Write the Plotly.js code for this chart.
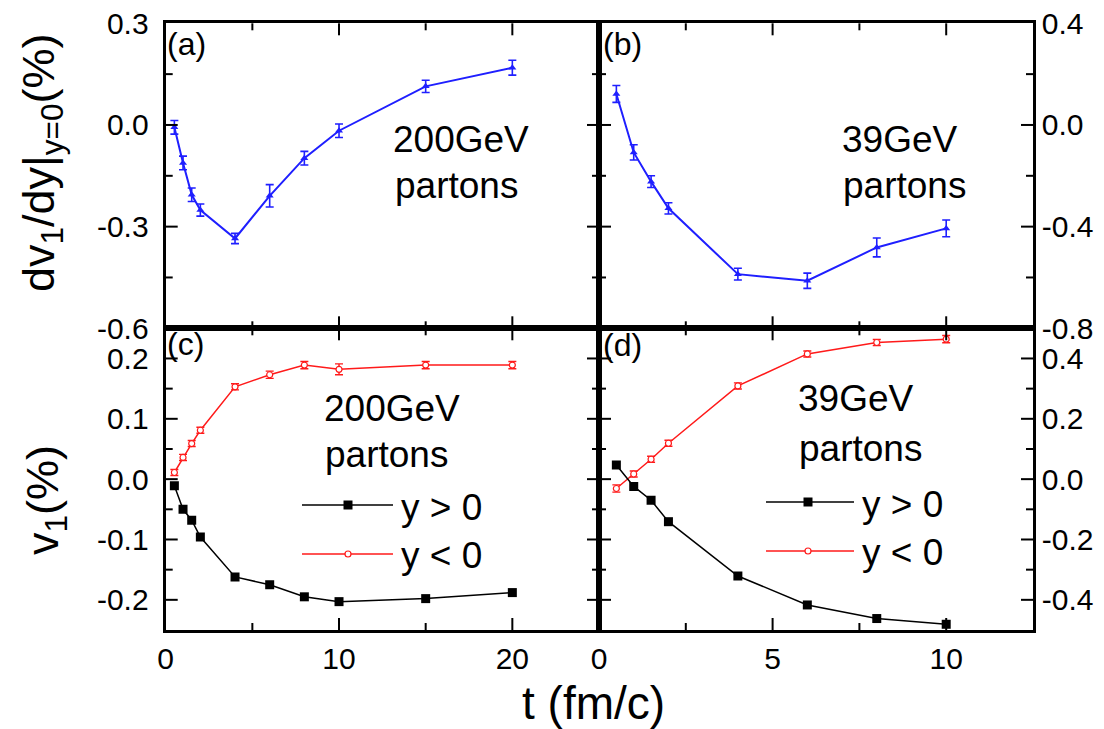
<!DOCTYPE html>
<html>
<head>
<meta charset="utf-8">
<script src="https://cdn.plot.ly/plotly-3.0.1.min.js"></script>
<style>html,body{margin:0;padding:0;background:#fff;}#chart{width:1104px;height:729px;}</style>
</head>
<body>
<div id="chart"></div>
<script>
// ---------- data ----------
const t200 = [0.5, 1, 1.5, 2, 4, 6, 8, 10, 15, 20];
const t39  = [0.5, 1, 1.5, 2, 4, 6, 8, 10];

// (a) dv1/dy at 200 GeV
const dv200    = [-0.007, -0.112, -0.206, -0.251, -0.335, -0.209, -0.098, -0.017, 0.114, 0.169];
const dv200Err = [0.02, 0.02, 0.02, 0.018, 0.015, 0.033, 0.02, 0.02, 0.018, 0.022];
// (b) dv1/dy at 39 GeV
const dv39     = [0.122, -0.108, -0.223, -0.328, -0.587, -0.613, -0.482, -0.407];
const dv39Err  = [0.033, 0.03, 0.023, 0.022, 0.023, 0.03, 0.037, 0.033];
// (c) v1 at 200 GeV
const v1Pos200    = [-0.011, -0.050, -0.068, -0.096, -0.162, -0.175, -0.195, -0.203, -0.198, -0.188];
const v1Neg200    = [0.011, 0.036, 0.059, 0.081, 0.153, 0.173, 0.189, 0.182, 0.189, 0.189];
const v1Neg200Err = [0.005, 0.005, 0.005, 0.005, 0.005, 0.006, 0.006, 0.009, 0.006, 0.006];
// (d) v1 at 39 GeV
const v1Pos39    = [0.047, -0.024, -0.070, -0.141, -0.321, -0.417, -0.462, -0.481];
const v1Neg39    = [-0.031, 0.017, 0.066, 0.119, 0.309, 0.415, 0.453, 0.464];
const v1Neg39Err = [0.012, 0.01, 0.01, 0.01, 0.01, 0.01, 0.01, 0.012];

// tick labels
const xValsL = [0, 10, 20];           const xTextL = ['0', '10', '20'];
const xValsR = [0, 5, 10];            const xTextR = ['0', '5', '10'];
const yValsA = [-0.6, -0.3, 0, 0.3];  const yTextA = ['-0.6', '-0.3', '0.0', '0.3'];
const yValsB = [-0.8, -0.4, 0, 0.4];  const yTextB = ['-0.8', '-0.4', '0.0', '0.4'];
const yValsC = [-0.2, -0.1, 0, 0.1, 0.2]; const yTextC = ['-0.2', '-0.1', '0.0', '0.1', '0.2'];
const yValsD = [-0.4, -0.2, 0, 0.2, 0.4]; const yTextD = ['-0.4', '-0.2', '0.0', '0.2', '0.4'];
// tick spacing [major, minor]
const xStepL = [10, 5], xStepR = [5, 2.5];
const yStepA = [0.3, 0.15], yStepB = [0.4, 0.2], yStepC = [0.1, 0.05], yStepD = [0.2, 0.1];

const legendNames = ['y > 0', 'y < 0'];
const energyLabels = ['200GeV', '39GeV'];
const panelLabels = ['(a)', '(b)', '(c)', '(d)'];

// ---------- layout helpers ----------
const W = 1104, H = 729;
const px = x => x / W;
const py = y => 1 - y / H;
const FONT = 'Liberation Sans, Arial, Helvetica, sans-serif';
const NB = '\u00a0';

const X0 = 165.7, XM = 599, X1 = 1033;
const Y0 = 23.3, YM = 328.3, Y1 = 630;
const MAJ = 12, MIN = 7;

const blue = '#1f1fff';
const red = '#ff1a1a';

const traces = [
  {x: t200, y: dv200, xaxis: 'x', yaxis: 'y', type: 'scatter', mode: 'lines+markers',
   line: {color: blue, width: 2}, marker: {symbol: 'triangle-up', size: 7, color: blue},
   error_y: {type: 'data', array: dv200Err, color: blue, thickness: 1.6, width: 4}},
  {x: t39, y: dv39, xaxis: 'x2', yaxis: 'y2', type: 'scatter', mode: 'lines+markers',
   line: {color: blue, width: 2}, marker: {symbol: 'triangle-up', size: 7, color: blue},
   error_y: {type: 'data', array: dv39Err, color: blue, thickness: 1.6, width: 4}},
  {x: t200, y: v1Neg200, xaxis: 'x3', yaxis: 'y3', type: 'scatter', mode: 'lines+markers',
   line: {color: red, width: 1.5}, marker: {symbol: 'circle', size: 6, color: '#fff', line: {color: red, width: 1.2}},
   error_y: {type: 'data', array: v1Neg200Err, color: red, thickness: 1.4, width: 4}},
  {x: t200, y: v1Pos200, xaxis: 'x3', yaxis: 'y3', type: 'scatter', mode: 'lines+markers',
   line: {color: '#000', width: 1.5}, marker: {symbol: 'square', size: 9, color: '#000'}},
  {x: t39, y: v1Neg39, xaxis: 'x4', yaxis: 'y4', type: 'scatter', mode: 'lines+markers',
   line: {color: red, width: 1.5}, marker: {symbol: 'circle', size: 6, color: '#fff', line: {color: red, width: 1.2}},
   error_y: {type: 'data', array: v1Neg39Err, color: red, thickness: 1.4, width: 4}},
  {x: t39, y: v1Pos39, xaxis: 'x4', yaxis: 'y4', type: 'scatter', mode: 'lines+markers',
   line: {color: '#000', width: 1.5}, marker: {symbol: 'square', size: 9, color: '#000'}}
];

const tickFont = {family: FONT, size: 30, color: '#000'};

const dL = [px(X0), px(XM)], dR = [px(XM), px(X1)];
const dT = [py(YM), py(Y0)], dB = [py(Y1), py(YM)];

const panels = [
  {xd: dL, yd: dT, xr: [0, 25],   yr: [-0.6, 0.3],   xs: xStepL, ys: yStepA, xv: xValsL, xt: null,   yv: yValsA, yt: yTextA, side: 'left',
   left: X0, right: XM, top: Y0, bottom: YM},
  {xd: dR, yd: dT, xr: [0, 12.5], yr: [-0.8, 0.4],   xs: xStepR, ys: yStepB, xv: xValsR, xt: null,   yv: yValsB, yt: yTextB, side: 'right',
   left: XM, right: X1, top: Y0, bottom: YM},
  {xd: dL, yd: dB, xr: [0, 25],   yr: [-0.25, 0.25], xs: xStepL, ys: yStepC, xv: xValsL, xt: xTextL, yv: yValsC, yt: yTextC, side: 'left',
   left: X0, right: XM, top: YM, bottom: Y1},
  {xd: dR, yd: dB, xr: [0, 12.5], yr: [-0.5, 0.5],   xs: xStepR, ys: yStepD, xv: xValsR, xt: xTextR, yv: yValsD, yt: yTextD, side: 'right',
   left: XM, right: X1, top: YM, bottom: Y1}
];

const layout = {
  width: W, height: H,
  margin: {l: 0, r: 0, t: 0, b: 0},
  paper_bgcolor: '#fff', plot_bgcolor: '#fff',
  showlegend: false,
  font: {family: FONT, color: '#000'}
};

// interior tick positions (multiples of the minor step)
function tickPositions(range, step) {
  const out = [];
  const ratio = Math.round(step[0] / step[1]);
  const n0 = Math.ceil(range[0] / step[1] - 1e-9), n1 = Math.floor(range[1] / step[1] + 1e-9);
  for (let n = n0; n <= n1; n++) {
    const v = +(n * step[1]).toFixed(6);
    if (Math.abs(v - range[0]) < 1e-9 || Math.abs(v - range[1]) < 1e-9) continue;
    out.push({v: v, major: n % ratio === 0});
  }
  return out;
}

const tickShapes = [];
const tickLine = {color: '#000', width: 2};

panels.forEach((p, i) => {
  const k = i + 1;
  const id = k === 1 ? '' : String(k);
  const xName = 'x' + id, yName = 'y' + id;
  const frame = {showline: true, linecolor: '#000', linewidth: 2.5, mirror: true, ticks: '',
                 showgrid: false, zeroline: false, tickfont: tickFont};
  layout['xaxis' + id] = Object.assign({}, frame, {domain: p.xd, anchor: yName, range: p.xr,
    tickmode: 'array', tickvals: p.xv, ticktext: p.xt || p.xv.map(() => ''), showticklabels: !!p.xt});
  layout['yaxis' + id] = Object.assign({}, frame, {domain: p.yd, anchor: xName, range: p.yr, side: p.side,
    tickmode: 'array', tickvals: p.yv,
    ticktext: p.side === 'left' ? p.yt.map(s => s + NB) : p.yt, showticklabels: true});

  // inward tick marks along the frame, placed with the same linear scale as the panel axes
  const xPix = v => p.left + (v - p.xr[0]) / (p.xr[1] - p.xr[0]) * (p.right - p.left);
  const yPix = v => p.bottom - (v - p.yr[0]) / (p.yr[1] - p.yr[0]) * (p.bottom - p.top);
  tickPositions(p.xr, p.xs).forEach(t => {
    const len = t.major ? MAJ : MIN, x = px(xPix(t.v));
    tickShapes.push({type: 'line', xref: 'paper', yref: 'paper', x0: x, x1: x,
      y0: py(p.bottom), y1: py(p.bottom - len), line: tickLine});
    tickShapes.push({type: 'line', xref: 'paper', yref: 'paper', x0: x, x1: x,
      y0: py(p.top), y1: py(p.top + len), line: tickLine});
  });
  tickPositions(p.yr, p.ys).forEach(t => {
    const len = t.major ? MAJ : MIN, y = py(yPix(t.v));
    tickShapes.push({type: 'line', xref: 'paper', yref: 'paper', y0: y, y1: y,
      x0: px(p.left), x1: px(p.left + len), line: tickLine});
    tickShapes.push({type: 'line', xref: 'paper', yref: 'paper', y0: y, y1: y,
      x0: px(p.right), x1: px(p.right - len), line: tickLine});
  });
});

function ann(text, x, y, size, opts) {
  return Object.assign({text: text, xref: 'paper', yref: 'paper', x: px(x), y: py(y),
    xanchor: 'left', yanchor: 'middle', showarrow: false,
    font: {family: FONT, size: size, color: '#000'}}, opts || {});
}

layout.annotations = [
  ann(panelLabels[0], 165, 44, 32),
  ann(panelLabels[1], 601, 44, 32),
  ann(panelLabels[2], 165, 344, 32),
  ann(panelLabels[3], 601, 345, 32),
  ann(energyLabels[0], 391, 140, 37),
  ann('partons', 393, 185, 37),
  ann(energyLabels[1], 840, 140, 37),
  ann('partons', 841, 185, 37),
  ann(energyLabels[0], 322, 408, 37),
  ann('partons', 323, 454, 37),
  ann(energyLabels[1], 796, 399, 37),
  ann('partons', 797, 448, 37),
  ann(legendNames[0], 399, 507, 37),
  ann(legendNames[1], 399, 555, 37),
  ann(legendNames[0], 860, 504, 37),
  ann(legendNames[1], 860, 552, 37),
  ann('t (fm/c)', 593, 703, 46, {xanchor: 'center'}),
  ann('dv<sub>1</sub>/dy|<sub>y=0</sub>(%)', 41, 163, 45, {xanchor: 'center', textangle: -90}),
  ann('v<sub>1</sub>(%)', 45, 500, 45, {xanchor: 'center', textangle: -90})
];

function lineShape(x0, x1, y, color) {
  return {type: 'line', xref: 'paper', yref: 'paper', x0: px(x0), x1: px(x1), y0: py(y), y1: py(y),
          line: {color: color, width: 1.5}};
}
function sq(cx, cy, s) {
  return {type: 'rect', xref: 'paper', yref: 'paper', x0: px(cx - s/2), x1: px(cx + s/2),
          y0: py(cy + s/2), y1: py(cy - s/2), fillcolor: '#000', line: {width: 0}};
}
function circ(cx, cy, r) {
  return {type: 'circle', xref: 'paper', yref: 'paper', x0: px(cx - r), x1: px(cx + r),
          y0: py(cy + r), y1: py(cy - r), fillcolor: '#fff', line: {color: red, width: 1.2}};
}

layout.shapes = tickShapes.concat([
  lineShape(302, 393, 505, '#000'), sq(348, 505, 9),
  lineShape(302, 393, 554, red), circ(348, 554, 3),
  lineShape(766, 854, 502, '#000'), sq(808, 502, 9),
  lineShape(766, 854, 551, red), circ(808, 551, 3)
]);

Plotly.newPlot('chart', traces, layout, {displayModeBar: false});
</script>
</body>
</html>
